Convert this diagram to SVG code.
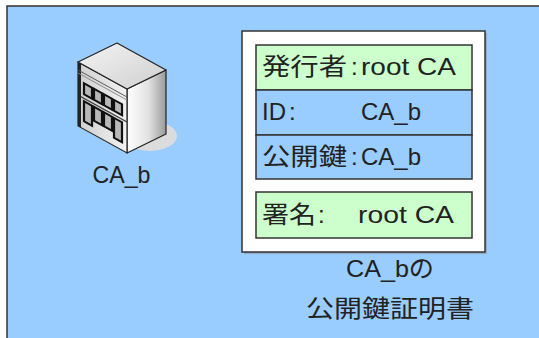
<svg xmlns="http://www.w3.org/2000/svg" width="539" height="338" viewBox="0 0 539 338">
  <defs>
    <linearGradient id="roofGrad" x1="0" y1="0" x2="1" y2="1">
      <stop offset="0" stop-color="#f4f4f4"/>
      <stop offset="1" stop-color="#cfcfcf"/>
    </linearGradient>
    <linearGradient id="sideGrad" x1="0" y1="0" x2="1" y2="0">
      <stop offset="0" stop-color="#ffffff"/>
      <stop offset="0.55" stop-color="#e2e2e2"/>
      <stop offset="1" stop-color="#9a9a9a"/>
    </linearGradient>
    <linearGradient id="frontGrad" x1="0" y1="0" x2="1" y2="0">
      <stop offset="0" stop-color="#cfcfcf"/>
      <stop offset="1" stop-color="#f2f2f2"/>
    </linearGradient>
  </defs>
  <style>
    .bg { fill: #99ccff; stroke: #333333; stroke-width: 1.5; }
    .card { fill: #ffffff; stroke: #333333; stroke-width: 1.5; }
    .green { fill: #ccffcc; stroke: #333333; stroke-width: 1.5; }
    .blue { fill: #99ccff; stroke: #333333; stroke-width: 1.5; }
    text { font-family: "Liberation Sans", "Noto Sans CJK JP", sans-serif; font-size: 24px; fill: #222222; }
    .edge { stroke: #222222; stroke-width: 1.2; stroke-linejoin: round; }
    .win { fill: #b8b8b8; stroke: #111111; stroke-width: 2.2; }
  </style>

  <!-- backdrop -->
  <rect class="bg" x="7" y="6" width="545" height="345"/>

  <!-- CA_b server building -->
  <g id="ca-b">
    <ellipse cx="150" cy="136" rx="27" ry="15" fill="#dcdcdc"/>
    <!-- right face -->
    <polygon class="edge" points="127,89 166,70 166,134 127,153" fill="url(#sideGrad)"/>
    <!-- front face with windows -->
    <g transform="matrix(1,0.551,0,1,78,62)">
      <rect class="edge" x="0" y="0" width="49" height="64" fill="url(#frontGrad)"/>
      <rect x="0" y="0" width="3" height="64" fill="#222222"/>
      <line x1="0" y1="8" x2="49" y2="8" stroke="#555555" stroke-width="1.2"/>
      <line x1="0" y1="11" x2="49" y2="11" stroke="#888888" stroke-width="0.8"/>
      <!-- upper windows -->
      <rect class="win" x="6" y="18" width="8" height="11"/>
      <rect class="win" x="16" y="18" width="8" height="11"/>
      <rect class="win" x="26" y="18" width="8" height="11"/>
      <rect class="win" x="36" y="18" width="8" height="11"/>
      <line x1="3" y1="33" x2="49" y2="33" stroke="#444444" stroke-width="1.5"/>
      <!-- lower doors -->
      <rect class="win" x="6" y="36" width="8" height="20"/>
      <rect class="win" x="16" y="36" width="8" height="14"/>
      <rect class="win" x="26" y="36" width="8" height="14"/>
      <rect class="win" x="36" y="36" width="8" height="20"/>
    </g>
    <!-- roof -->
    <polygon class="edge" points="78,62 117,43 166,70 127,89" fill="url(#roofGrad)"/>
    <text x="121.5" y="183" text-anchor="middle" textLength="58" lengthAdjust="spacingAndGlyphs">CA_b</text>
  </g>

  <!-- certificate of CA_b -->
  <g id="cert">
    <rect x="244" y="33" width="243" height="221" fill="#888888" opacity="0.5"/>
    <rect class="card" x="242" y="31" width="243" height="221"/>

    <g id="row-issuer">
      <rect class="green" x="256" y="45" width="216" height="45"/>
      <text y="75"><tspan x="262" textLength="85" lengthAdjust="spacingAndGlyphs">発行者</tspan><tspan x="351">:</tspan><tspan x="361" textLength="95" lengthAdjust="spacingAndGlyphs">root CA</tspan></text>
    </g>
    <g id="row-id">
      <rect class="blue" x="256" y="90" width="216" height="45"/>
      <text y="120"><tspan x="262" textLength="24" lengthAdjust="spacingAndGlyphs">ID</tspan><tspan x="289">:</tspan><tspan x="361" textLength="60" lengthAdjust="spacingAndGlyphs">CA_b</tspan></text>
    </g>
    <g id="row-key">
      <rect class="blue" x="256" y="135" width="216" height="44"/>
      <text y="165"><tspan x="262" textLength="85" lengthAdjust="spacingAndGlyphs">公開鍵</tspan><tspan x="351">:</tspan><tspan x="361" textLength="60" lengthAdjust="spacingAndGlyphs">CA_b</tspan></text>
    </g>
    <g id="row-signature">
      <rect class="green" x="256" y="192" width="216" height="46"/>
      <text y="223"><tspan x="262" textLength="54" lengthAdjust="spacingAndGlyphs">署名</tspan><tspan x="318">:</tspan><tspan x="358" textLength="96" lengthAdjust="spacingAndGlyphs">root CA</tspan></text>
    </g>

    <text text-anchor="middle"><tspan x="390" y="277" textLength="88" lengthAdjust="spacingAndGlyphs">CA_bの</tspan><tspan x="390" y="317" textLength="168" lengthAdjust="spacingAndGlyphs">公開鍵証明書</tspan></text>
  </g>
</svg>
